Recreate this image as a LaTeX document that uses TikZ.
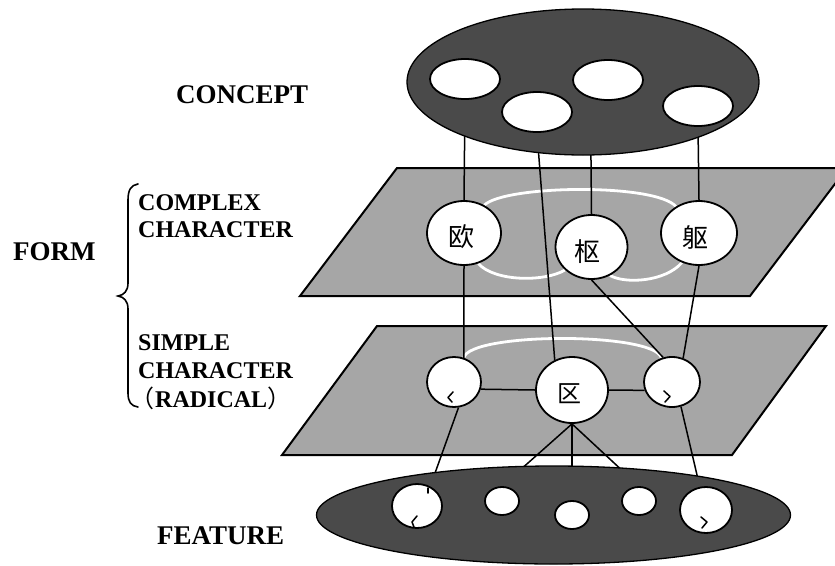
\documentclass[tikz,border=0pt]{standalone}
\usepackage{fontspec}
\setmainfont{Liberation Serif}
\newfontfamily\cjk{Noto Sans CJK SC}
\usetikzlibrary{shapes.geometric}
\definecolor{darkfill}{RGB}{74,74,74}
\definecolor{planefill}{RGB}{166,166,166}
\pgfdeclarelayer{planes}
\pgfdeclarelayer{links}
\pgfsetlayers{planes,links,main}
\begin{document}
\begin{tikzpicture}[x=1pt,y=-1pt,
  blob/.style={ellipse, draw=black, line width=1.3pt, fill=darkfill, inner sep=0pt},
  hole/.style={ellipse, draw=black, line width=1.8pt, fill=white, inner sep=0pt},
  plane/.style={draw=black, line width=2pt, fill=planefill, line join=miter},
  link/.style={draw=black, line width=1.5pt},
  whiteloop/.style={draw=white, line width=2.8pt},
  head/.style={font=\fontsize{27}{27}\selectfont\bfseries, inner sep=0pt, anchor=base west},
  sub/.style={font=\fontsize{24}{24}\selectfont\bfseries, inner sep=0pt, anchor=base west},
  han/.style={font=\cjk\fontsize{26}{26}\selectfont, inner sep=0pt},
  stroke/.style={draw=black, line width=1.5pt, line cap=round, line join=round}
]
\useasboundingbox (0,0) rectangle (835,565);

% ---- concept layer
\node[blob, minimum width=352pt, minimum height=146pt] (concept) at (583,82) {};
\node[hole, minimum width=70pt, minimum height=40pt] (c1) at (465,79) {};
\node[hole, minimum width=70pt, minimum height=40pt] (c2) at (537,112) {};
\node[hole, minimum width=70pt, minimum height=40pt] (c3) at (608,80) {};
\node[hole, minimum width=70pt, minimum height=40pt] (c4) at (698,106) {};

% ---- complex characters
\node[hole, minimum width=74pt, minimum height=64pt] (ou) at (464,233) {};
\node[hole, minimum width=72pt, minimum height=64pt] (shu) at (591.5,247) {};
\node[hole, minimum width=76pt, minimum height=64pt] (qv) at (699,233) {};
\node[han] (ou-t) at (461,237) {欧};
\node[han] (shu-t) at (587,252) {枢};
\node[han] (qv-t) at (695,237) {躯};

% ---- simple characters
\node[hole, minimum width=54pt, minimum height=50pt] (ll) at (454,382) {};
\node[hole, minimum width=72pt, minimum height=66pt] (qu) at (572,390) {};
\node[hole, minimum width=56pt, minimum height=50pt] (rr) at (672,382) {};
\node[han, font=\cjk\fontsize{24}{24}\selectfont] (qu-t) at (569,394) {区};

% ---- feature layer
\node[blob, minimum width=474pt, minimum height=98pt] (feat) at (553.5,515) {};
\node[hole, minimum width=50pt, minimum height=44pt] (f1) at (417,506) {};
\node[hole, minimum width=34pt, minimum height=28pt] (f2) at (502,501) {};
\node[hole, minimum width=34pt, minimum height=28pt] (f3) at (572,515) {};
\node[hole, minimum width=34pt, minimum height=28pt] (f4) at (639,501) {};
\node[hole, minimum width=52pt, minimum height=46pt] (f5) at (706,510) {};

% radical strokes inside the small circles
\draw[stroke] (453,392) -- (448,397.5) -- (452,402);
\draw[stroke] (664,391) -- (670,396.5) -- (665,402);
\draw[stroke] (417,516) -- (412,522) -- (414,527);
\draw[stroke] (428,488) -- (428,493);
\draw[stroke] (701,517) -- (707,522) -- (702,528);

% ---- planes
\begin{pgfonlayer}{planes}
  \begin{scope}
    \clip (0,0) rectangle (835,565);
    \draw[plane] (300,296) -- (750,296) -- (847,168) -- (397,168) -- cycle;
    \draw[plane] (282,455) -- (732,455) -- (826,326) -- (377,326) -- cycle;
  \end{scope}
\end{pgfonlayer}

% ---- white associations and links
\begin{pgfonlayer}{links}
  \draw[whiteloop] (ou.54) .. controls (505,185) and (655,183) .. (qv.131);
  \draw[whiteloop] (ou.-65) .. controls (495,282) and (545,282) .. (shu.-139);
  \draw[whiteloop] (shu.-57) .. controls (625,284) and (665,282) .. (qv.-120);
  \draw[whiteloop] (ll.68) .. controls (470,332) and (655,332) .. (rr.114);

  \draw[link] (c1.south) -- (ou.north);
  \draw[link] (c2.south) -- (qu.120);
  \draw[link] (c3.-134) -- (shu.north);
  \draw[link] (c4.south) -- (qv.north);

  \draw[link] (ou.south) -- (ll.68);
  \draw[link] (shu.south) -- (rr.110);
  \draw[link] (qv.south) -- (rr.65);
  \draw[link] (ll.-15) -- (qu.180);
  \draw[link] (qu.0) -- (rr.-163);

  \draw[link] (ll.-80) -- (f1.56);
  \draw[link] (qu.south) -- (f2.north);
  \draw[link] (qu.south) -- (f3.north);
  \draw[link] (qu.south) -- (f4.north);
  \draw[link] (rr.-70) -- (f5.105);
\end{pgfonlayer}

% ---- labels
\node[head] (lab-concept) at (176,103) {CONCEPT};
\node[head] (lab-form) at (13,260) {FORM};
\node[sub] (lab-cx1) at (138,210) {COMPLEX};
\node[sub] (lab-cx2) at (138,237) {CHARACTER};
\node[sub] (lab-sp1) at (138,350) {SIMPLE};
\node[sub] (lab-sp2) at (138,378) {CHARACTER};
\node[sub] (lab-rad) at (155,407) {RADICAL};
\node[font=\cjk\fontsize{24}{24}\selectfont, inner sep=0pt, anchor=base east] (lab-lp) at (lab-rad.base west) {（};
\node[font=\cjk\fontsize{24}{24}\selectfont, inner sep=0pt, anchor=base west] (lab-rp) at (lab-rad.base east) {）};
\node[head] (lab-feature) at (157,544) {FEATURE};

% brace grouping the two form levels
\draw[line width=1.6pt, line cap=round]
  (138,184) .. controls (131,185) and (128,190) .. (128,200)
  -- (128,283) .. controls (128,291) and (124,295) .. (118,296)
  .. controls (124,297) and (128,301) .. (128,309)
  -- (128,393) .. controls (128,402) and (131,406) .. (138,407);
\end{tikzpicture}
\end{document}
